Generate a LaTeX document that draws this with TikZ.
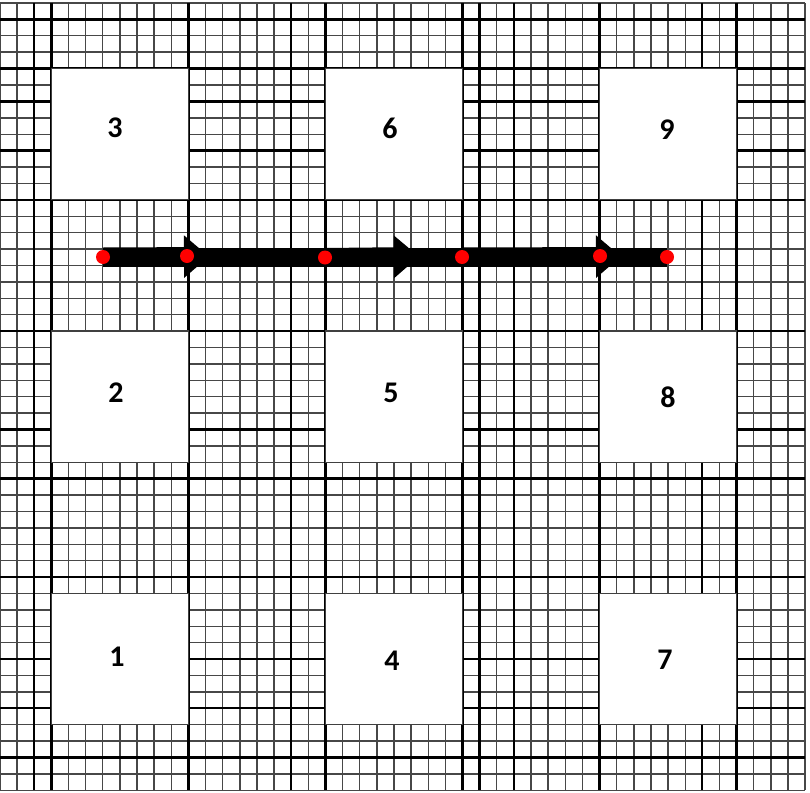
\documentclass[tikz,border=0pt]{standalone}
\usepackage{fontspec}
\setmainfont{Carlito}
\usetikzlibrary{arrows.meta}
\pgfdeclarelayer{fg}
\pgfsetlayers{main,fg}
\begin{document}
\begin{tikzpicture}[x=1pt,y=-1pt,
  thinline/.style={line width=1.4pt, draw=black!72},
  thickline/.style={line width=2.3pt, draw=black},
  cellbox/.style={draw=black!75, line width=1.2pt, fill=white, inner sep=0pt, outer sep=0pt,
    minimum width=137.04pt, minimum height=131.2pt, anchor=north west},
  numlabel/.style={font=\fontsize{30}{30}\selectfont\bfseries, inner sep=0pt},
  reddot/.style={circle, fill=red, minimum size=14pt, inner sep=0pt},
  flowline/.style={line width=19pt, draw=black},
  flowarrow/.style={line width=19pt, draw=black, -{Triangle[width=41pt,length=25pt]}},
]
\useasboundingbox (0,0) rectangle (810,792);
\fill[white] (0,0) rectangle (810,792);
% fine grid
\foreach \k in {0,...,47} \draw[thinline] ({17.13*\k},3) -- ({17.13*\k},790.2);
\foreach \j in {0,...,48} \draw[thinline] (0,{3+16.4*\j}) -- (805.1,{3+16.4*\j});
% heavier lines
\foreach \k in {2,3,11,17,19,27,28,30,35,41,43} \draw[thickline] ({17.13*\k},3) -- ({17.13*\k},790.2);
\foreach \j in {1,4,6,9,12,20,26,29,35,40,43,46} \draw[thickline] (0,{3+16.4*\j}) -- (805.1,{3+16.4*\j});
% white boxes
\node[cellbox] (b3) at ({17.13*3},{3+16.4*4}) {};
\node[cellbox] (b6) at ({17.13*19},{3+16.4*4}) {};
\node[cellbox] (b9) at ({17.13*35},{3+16.4*4}) {};
\node[cellbox] (b2) at ({17.13*3},{3+16.4*20}) {};
\node[cellbox] (b5) at ({17.13*19},{3+16.4*20}) {};
\node[cellbox] (b8) at ({17.13*35},{3+16.4*20}) {};
\node[cellbox] (b1) at ({17.13*3},{3+16.4*36}) {};
\node[cellbox] (b4) at ({17.13*19},{3+16.4*36}) {};
\node[cellbox] (b7) at ({17.13*35},{3+16.4*36}) {};
% numbers
\node[numlabel] (n3) at (115,128) {3};
\node[numlabel] (n6) at (390,128) {6};
\node[numlabel] (n9) at (667,130) {9};
\node[numlabel] (n2) at (116,393) {2};
\node[numlabel] (n5) at (391,393) {5};
\node[numlabel] (n8) at (668,397) {8};
\node[numlabel] (n1) at (117,657) {1};
\node[numlabel] (n4) at (392,661) {4};
\node[numlabel] (n7) at (665,660) {7};
% red points
\begin{pgfonlayer}{fg}
\node[reddot] (d1) at (103,257) {};
\node[reddot] (d2) at (187,256) {};
\node[reddot] (d3) at (325,257.5) {};
\node[reddot] (d4) at (462,257) {};
\node[reddot] (d5) at (600,256) {};
\node[reddot] (d6) at (667,257) {};
\end{pgfonlayer}
\coordinate (t1) at (209,256.5);
\coordinate (t2) at (419,256.5);
\coordinate (t3) at (621,256.5);
\draw[flowline] (d1.center) -- (d6.center);
\draw[flowarrow] (d1.center) -- (t1);
\draw[flowarrow] (d3.center) -- (t2);
\draw[flowarrow] (d4.center) -- (t3);
\end{tikzpicture}
\end{document}
